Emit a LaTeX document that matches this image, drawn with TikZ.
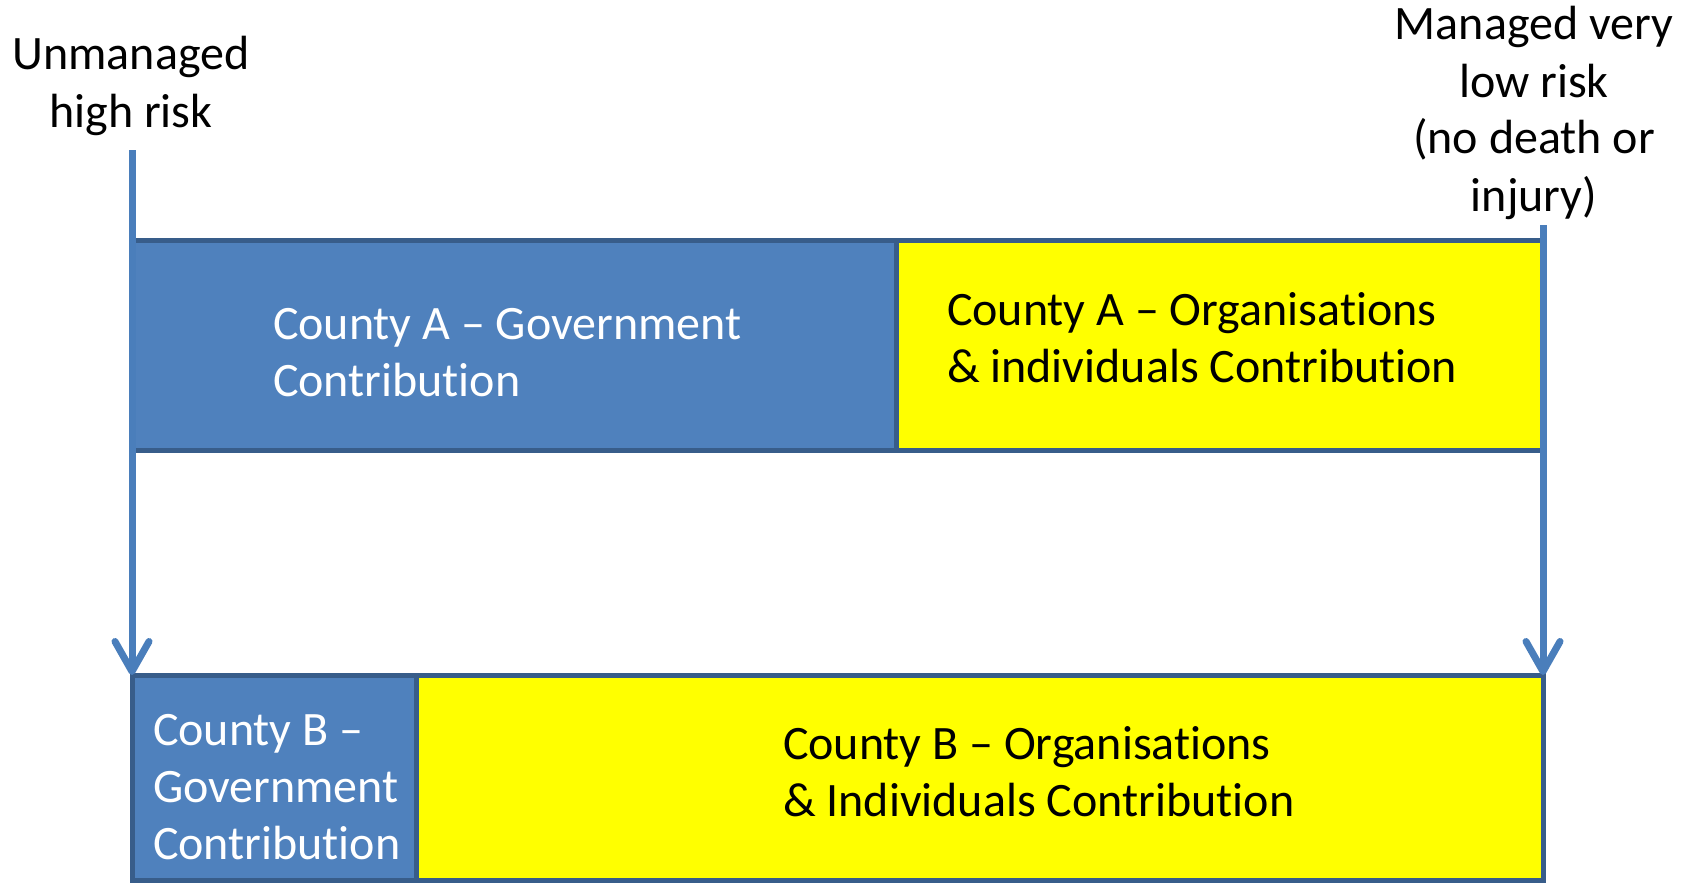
\documentclass[tikz,border=0pt]{standalone}
\usepackage{fontspec}
\setmainfont[Ligatures=NoCommon]{Carlito}
\usetikzlibrary{arrows.meta}
\definecolor{boxfill}{HTML}{4F81BD}
\definecolor{boxedge}{HTML}{385D8A}
\definecolor{linecol}{HTML}{4A7EBB}
\definecolor{yel}{HTML}{FFFF00}
\tikzset{
  box/.style={draw=boxedge, line width=2.5pt, rectangle, inner sep=0pt, outer sep=0pt, anchor=north west},
  govbox/.style={box, fill=boxfill},
  orgbox/.style={box, fill=yel},
  txt/.style={font=\fontsize{24pt}{28.5pt}\selectfont, inner sep=0pt, outer sep=0pt},
  wtxt/.style={txt, text=white, align=left, anchor=base west},
  ktxt/.style={txt, text=black, align=left, anchor=base west},
  riskline/.style={draw=linecol, line width=3.5pt, -{Straight Barb[round, length=15pt, width=17pt]}}
}
\begin{document}
\begin{tikzpicture}[x=0.5pt,y=-0.5pt]
\useasboundingbox (0,0) rectangle (1690,883);
\clip (0,0) rectangle (1690,883);
% County A boxes
\node[govbox, minimum width=382pt, minimum height=105pt] (bA) at (132,240) {};
\node[orgbox, minimum width=323.5pt, minimum height=105pt] (yA) at (896,240) {};
% County B boxes
\node[govbox, minimum width=142pt, minimum height=102.5pt] (bB) at (132,675) {};
\node[orgbox, minimum width=563.5pt, minimum height=102.5pt] (yB) at (416,675) {};
% texts (base anchor = baseline of the last line)
\node[wtxt] (tbA) at (273,396) {County A -- Government\\Contribution};
\node[ktxt] (tyA) at (947,382) {County A -- Organisations\\\& individuals Contribution};
\node[wtxt] (tbB) at (153,859) {County B --\\Government\\Contribution};
\node[ktxt] (tyB) at (783,816) {County B -- Organisations\\\& Individuals Contribution};
\node[txt, align=center, anchor=base] (lhigh) at (131,127) {Unmanaged\\high risk};
\node[txt, align=center, anchor=base] (llow) at (1534,211) {Managed very\\low risk\\(no death or\\injury)};
% lines
\coordinate (ltop) at (132,150);
\coordinate (rtop) at (1543,225);
\draw[riskline] (ltop) -- (bB.north west);
\draw[riskline] (rtop) -- (yB.north east);
\end{tikzpicture}
\end{document}
